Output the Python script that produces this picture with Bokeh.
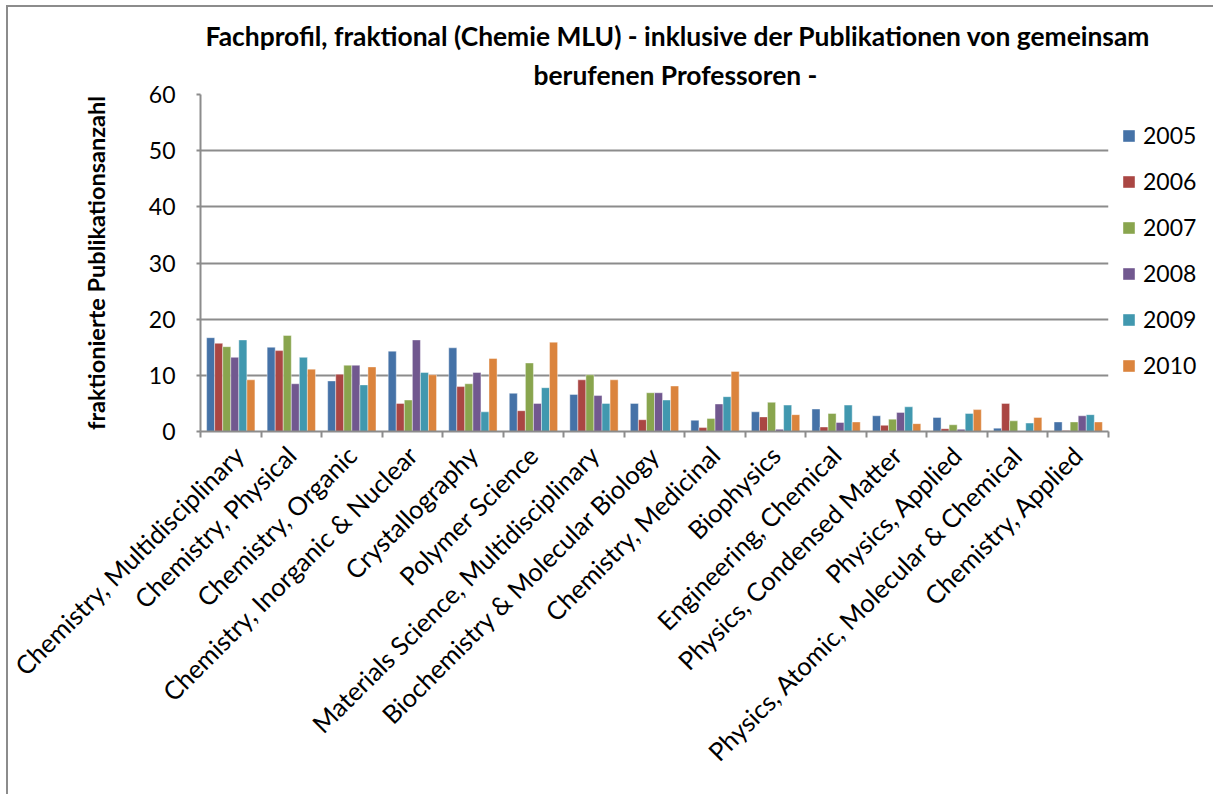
import numpy as np
from bokeh.plotting import figure
from bokeh.models import (ColumnDataSource, Range1d, FixedTicker, Legend, LegendItem,
                          Title)
from bokeh.transform import dodge
from bokeh.embed import file_html
from bokeh.resources import INLINE

categories = [
    "Chemistry, Multidisciplinary", "Chemistry, Physical", "Chemistry, Organic",
    "Chemistry, Inorganic & Nuclear", "Crystallography", "Polymer Science",
    "Materials Science, Multidisciplinary", "Biochemistry & Molecular Biology",
    "Chemistry, Medicinal", "Biophysics", "Engineering, Chemical",
    "Physics, Condensed Matter", "Physics, Applied",
    "Physics, Atomic, Molecular & Chemical", "Chemistry, Applied",
]
years = ["2005", "2006", "2007", "2008", "2009", "2010"]
v2005 = [16.7, 15.0, 9.0, 14.3, 14.9, 6.8, 6.6, 5.0, 2.0, 3.5, 4.0, 2.8, 2.5, 0.6, 1.7]
v2006 = [15.7, 14.4, 10.2, 5.0, 8.0, 3.7, 9.2, 2.1, 0.7, 2.6, 0.8, 1.1, 0.5, 5.0, 0.2]
v2007 = [15.1, 17.1, 11.8, 5.6, 8.5, 12.2, 10.1, 6.9, 2.3, 5.2, 3.2, 2.2, 1.2, 1.9, 1.7]
v2008 = [13.2, 8.5, 11.8, 16.3, 10.5, 5.0, 6.4, 6.9, 4.9, 0.4, 1.6, 3.4, 0.4, 0.0, 2.8]
v2009 = [16.3, 13.2, 8.3, 10.5, 3.5, 7.8, 5.0, 5.6, 6.2, 4.7, 4.7, 4.4, 3.2, 1.5, 3.0]
v2010 = [9.2, 11.1, 11.5, 10.1, 13.0, 15.9, 9.2, 8.1, 10.7, 3.0, 1.7, 1.4, 3.9, 2.5, 1.7]
series = [v2005, v2006, v2007, v2008, v2009, v2010]
colors = ["#4572A7", "#AA4643", "#89A54E", "#71588F", "#4198AF", "#DB843D"]
y_ticks = [0, 10, 20, 30, 40, 50, 60]

title1 = "Fachprofil, fraktional (Chemie MLU) - inklusive der Publikationen von gemeinsam"
title2 = "berufenen Professoren -"
y_label = "fraktionierte Publikationsanzahl"

FONT = "Lato"
n = len(categories)
xpos = list(range(n))
data = {"x": xpos}
for y, s in zip(years, series):
    data[y] = s
source = ColumnDataSource(data)

p = figure(frame_width=908, frame_height=337,
           x_range=Range1d(-0.5, n - 0.5), y_range=Range1d(0, 60),
           output_backend="svg", toolbar_location=None,
           min_border_left=192, min_border_right=105,
           min_border_top=87, min_border_bottom=363)
p.styles = {"margin-left": "6px", "margin-top": "5px",
            "border-left": "2px solid #8C8C8C", "border-top": "2px solid #8C8C8C"}

bw = 0.133
items = []
for i, (y, c) in enumerate(zip(years, colors)):
    off = (i - 2.5) * bw
    r = p.vbar(x=dodge("x", off), top=y, width=bw, source=source,
               fill_color=c, line_color="white", line_width=0.6, line_alpha=0.7)
    items.append(LegendItem(label=y, renderers=[r]))

legend = Legend(items=items, location=(13, 51), orientation="vertical",
                glyph_width=15, glyph_height=15, label_height=30, spacing=16,
                padding=0, margin=0, label_standoff=7,
                label_text_font=FONT, label_text_font_size="23px",
                label_text_color="black",
                border_line_color=None, background_fill_alpha=0)
p.add_layout(legend, "right")

# titles
t2 = Title(text=title2, align="left", offset=333, text_font=FONT,
           text_font_size="26.4px", text_font_style="bold", text_color="black",
           standoff=8)
t1 = Title(text=title1, align="left", offset=5, text_font=FONT,
           text_font_size="26.4px", text_font_style="bold", text_color="black",
           standoff=2)
p.add_layout(t2, "above")
p.add_layout(t1, "above")

grid_col = "#8C8C8C"
p.xgrid.grid_line_color = None
p.ygrid.grid_line_color = grid_col
p.ygrid.grid_line_width = 2
p.ygrid.ticker = FixedTicker(ticks=y_ticks)
p.outline_line_color = None

# y axis
p.yaxis.ticker = FixedTicker(ticks=y_ticks)
p.yaxis.axis_line_color = grid_col
p.yaxis.axis_line_width = 2
p.yaxis.major_tick_line_color = grid_col
p.yaxis.major_tick_line_width = 2
p.yaxis.major_tick_out = 4
p.yaxis.major_tick_in = 0
p.yaxis.minor_tick_line_color = None
p.yaxis.major_label_text_font = FONT
p.yaxis.major_label_text_font_size = "23px"
p.yaxis.major_label_text_color = "black"
p.yaxis.major_label_standoff = 21
p.yaxis.axis_label = y_label
p.yaxis.axis_label_text_font = FONT
p.yaxis.axis_label_text_font_size = "23.5px"
p.yaxis.axis_label_text_font_style = "bold"
p.yaxis.axis_label_text_color = "black"
p.yaxis.axis_label_standoff = 36

# x axis
bounds = [i - 0.5 for i in range(n + 1)]
p.xaxis.ticker = FixedTicker(ticks=xpos, minor_ticks=bounds)
p.xaxis.major_label_overrides = {i: c for i, c in enumerate(categories)}
p.xaxis.major_label_orientation = np.pi / 4
p.xaxis.major_label_text_font = FONT
p.xaxis.major_label_text_font_size = "25.5px"
p.xaxis.major_label_text_color = "black"
p.xaxis.major_label_standoff = 13
p.xaxis.axis_line_color = grid_col
p.xaxis.axis_line_width = 2
p.xaxis.major_tick_line_color = None
p.xaxis.minor_tick_line_color = grid_col
p.xaxis.minor_tick_line_width = 2
p.xaxis.minor_tick_out = 6
p.xaxis.minor_tick_in = 0

open("out.html", "w").write(file_html(p, INLINE))
